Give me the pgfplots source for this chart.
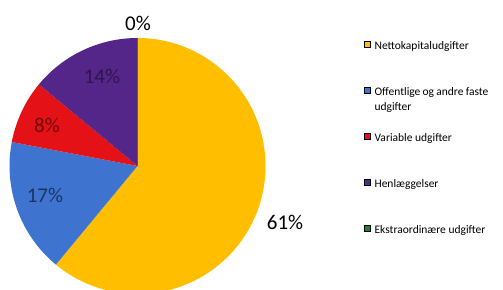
\documentclass[border=0pt]{standalone}
\usepackage{pgfplots}
\usepackage{pgfplotstable}
\pgfplotsset{compat=1.18}
\usepackage{fontspec}
\setmainfont{Carlito}
\definecolor{cY}{RGB}{255,190,0}
\definecolor{cB}{RGB}{62,116,208}
\definecolor{cR}{RGB}{228,18,22}
\definecolor{cP}{RGB}{84,38,138}
\definecolor{cG}{RGB}{30,135,35}
\pgfplotstableread{
name value
Netto 61
Offentlige 17
Variable 8
Henlaeggelser 14
Ekstra 0
}\pietable
\pgfplotstablegetelem{0}{value}\of\pietable \let\vA\pgfplotsretval
\pgfplotstablegetelem{1}{value}\of\pietable \let\vB\pgfplotsretval
\pgfplotstablegetelem{2}{value}\of\pietable \let\vC\pgfplotsretval
\pgfplotstablegetelem{3}{value}\of\pietable \let\vD\pgfplotsretval
\pgfplotstablegetelem{4}{value}\of\pietable \let\vE\pgfplotsretval
\pgfmathsetmacro\aA{90}
\pgfmathsetmacro\aB{\aA-3.6*\vA}
\pgfmathsetmacro\aC{\aB-3.6*\vB}
\pgfmathsetmacro\aD{\aC-3.6*\vC}
\pgfmathsetmacro\aE{\aD-3.6*\vD}
\pgfmathsetmacro\aF{\aE-3.6*\vE}
\begin{document}
\begin{tikzpicture}
\begin{axis}[
  hide axis, scale only axis,
  x=1pt, y=1pt, xmin=0, xmax=503, ymin=0, ymax=289,
  clip=true,
  legend cell align=left,
  legend image code/.code={\fill[#1] (0pt,-1pt) rectangle (6pt,5pt); \path (9pt,0pt);},
  legend style={draw=none, fill=none, at={(axis cs:364,249)}, anchor=north west,
    font=\fontsize{11.5}{15}\selectfont, row sep=34pt, inner sep=0pt,
    nodes={inner sep=1pt, text height=8pt, text depth=2pt}},
]
\addlegendimage{fill=cY}\addlegendentry{Nettokapitaludgifter}
\addlegendimage{fill=cB}\addlegendentry{\parbox[t]{4cm}{Offentlige og andre faste\\udgifter}}
\addlegendimage{fill=cR}\addlegendentry{Variable udgifter}
\addlegendimage{fill=cP}\addlegendentry{Henlæggelser}
\addlegendimage{fill=cG}\addlegendentry{Ekstraordinære udgifter}
\fill[cY] (axis cs:137.5,123) -- +(\aA:128pt) arc[start angle=\aA, end angle=\aB, radius=128pt] -- cycle;
\fill[cB] (axis cs:137.5,123) -- +(\aB:128pt) arc[start angle=\aB, end angle=\aC, radius=128pt] -- cycle;
\fill[cR] (axis cs:137.5,123) -- +(\aC:128pt) arc[start angle=\aC, end angle=\aD, radius=128pt] -- cycle;
\fill[cP] (axis cs:137.5,123) -- +(\aD:128pt) arc[start angle=\aD, end angle=\aE, radius=128pt] -- cycle;
\draw[cG, line width=0.4pt] (axis cs:137.5,123) -- +(\aE:128pt);
\node[font=\fontsize{21}{24}\selectfont] at (axis cs:138,266) {0\%};
\node[font=\fontsize{21}{24}\selectfont, text=cP!55!black] at (axis cs:102,213) {14\%};
\node[font=\fontsize{21}{24}\selectfont, text=cR!50!black] at (axis cs:47,164) {8\%};
\node[font=\fontsize{21}{24}\selectfont, text=cB!45!black] at (axis cs:45,94) {17\%};
\node[font=\fontsize{21}{24}\selectfont] at (axis cs:285,67) {61\%};
\end{axis}
\pgfresetboundingbox
\useasboundingbox (current axis.south west) rectangle (current axis.north east);
\end{tikzpicture}
\end{document}
